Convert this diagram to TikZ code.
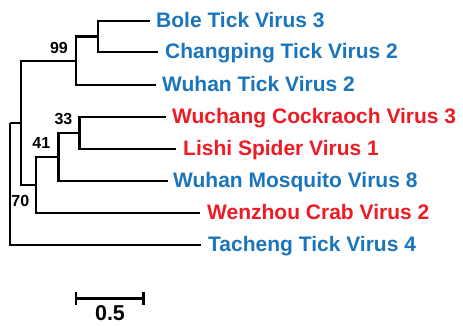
\documentclass[tikz,border=0pt]{standalone}
\usepackage{fontspec}
\setmainfont{Liberation Sans}
\definecolor{tipblue}{RGB}{27,117,188}
\definecolor{tipred}{RGB}{237,28,36}
\begin{document}
\begin{tikzpicture}[x=1pt,y=-1pt,
  branch/.style={line width=2.4pt},
  taxon/.style={anchor=base west,inner sep=0pt,font=\fontsize{21}{25}\selectfont\bfseries},
  support/.style={anchor=center,inner sep=0pt,font=\fontsize{16}{19}\selectfont\bfseries},
  scalelabel/.style={anchor=base,inner sep=0pt,font=\fontsize{21.5}{26}\selectfont\bfseries}]
\useasboundingbox (0,0) rectangle (463,325);

% internal nodes (x of the vertical bar, y of its midpoint)
\coordinate (root) at (10,123);
\coordinate (n70)  at (20.7,123);
\coordinate (n99)  at (76,61);
\coordinate (nbc)  at (97.7,36.5);
\coordinate (nw)   at (35.7,185);
\coordinate (n41)  at (58.3,157);
\coordinate (n33)  at (79.3,133);

% leaf ends
\coordinate (tBole) at (150,21);
\coordinate (tChan) at (158,52);
\coordinate (tWuT)  at (156,85);
\coordinate (tWuc)  at (166,117);
\coordinate (tLis)  at (176,149);
\coordinate (tWuM)  at (168,181);
\coordinate (tWen)  at (200,213);
\coordinate (tTac)  at (201,245);

% leaf labels
\node[taxon,text=tipblue] (lBole) at (156,27) {Bole Tick Virus 3};
\node[taxon,text=tipblue] (lChan) at (165,58) {Changping Tick Virus 2};
\node[taxon,text=tipblue] (lWuT)  at (162,91) {Wuhan Tick Virus 2};
\node[taxon,text=tipred]  (lWuc)  at (172,123) {Wuchang Cockraoch Virus 3};
\node[taxon,text=tipred]  (lLis)  at (183,155) {Lishi Spider Virus 1};
\node[taxon,text=tipblue] (lWuM)  at (173,187) {Wuhan Mosquito Virus 8};
\node[taxon,text=tipred]  (lWen)  at (207,219) {Wenzhou Crab Virus 2};
\node[taxon,text=tipblue] (lTac)  at (208,251) {Tacheng Tick Virus 4};

% branches
\draw[branch] (root) |- (n70);
\draw[branch] (root) |- (tTac);
\draw[branch] (n70) |- (n99);
\draw[branch] (n70) |- (nw);
\draw[branch] (n99) |- (nbc);
\draw[branch] (n99) |- (tWuT);
\draw[branch] (nbc) |- (tBole);
\draw[branch] (nbc) |- (tChan);
\draw[branch] (nw) |- (n41);
\draw[branch] (nw) |- (tWen);
\draw[branch] (n41) |- (n33);
\draw[branch] (n41) |- (tWuM);
\draw[branch] (n33) |- (tWuc);
\draw[branch] (n33) |- (tLis);

% bootstrap support values
\node[support] (s99) at (59,48.3) {99};
\node[support] (s33) at (63.5,118.8) {33};
\node[support] (s41) at (41.3,143.3) {41};
\node[support] (s70) at (20.3,201) {70};

% scale bar
\coordinate (sbL) at (76,298.5);
\coordinate (sbR) at (143.3,298.5);
\draw[branch] (sbL) -- (sbR);
\draw[branch] ([yshift=-6.5pt]sbL) -- ([yshift=6.5pt]sbL);
\draw[branch] ([yshift=-6.5pt]sbR) -- ([yshift=6.5pt]sbR);
\node[scalelabel] (sblabel) at (110,320.5) {0.5};
\end{tikzpicture}
\end{document}
